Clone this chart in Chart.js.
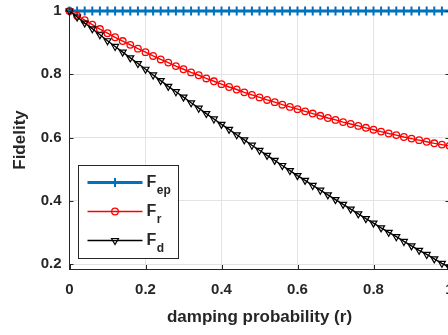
<!DOCTYPE html>
<html><head><meta charset="utf-8">
<script src="https://cdn.jsdelivr.net/npm/chart.js@4"></script>
<style>
html,body{margin:0;padding:0;overflow:hidden;background:#fff;width:448px;height:335px}
#wrap{position:absolute;left:0;top:0;width:462px;height:335px}
</style></head>
<body><div id="wrap"><canvas id="c" width="462" height="335"></canvas></div>
<script>
const rValues = [0,0.02,0.04,0.06,0.08,0.10,0.12,0.14,0.16,0.18,0.20,0.22,0.24,0.26,0.28,0.30,0.32,0.34,0.36,0.38,0.40,0.42,0.44,0.46,0.48,0.50,0.52,0.54,0.56,0.58,0.60,0.62,0.64,0.66,0.68,0.70,0.72,0.74,0.76,0.78,0.80,0.82,0.84,0.86,0.88,0.90,0.92,0.94,0.96,0.98,1.00];
const Fep = [1,1,1,1,1,1,1,1,1,1,1,1,1,1,1,1,1,1,1,1,1,1,1,1,1,1,1,1,1,1,1,1,1,1,1,1,1,1,1,1,1,1,1,1,1,1,1,1,1,1,1];
const Fr = [1.000,0.985,0.971,0.957,0.943,0.930,0.917,0.905,0.893,0.881,0.870,0.858,0.847,0.837,0.826,0.816,0.806,0.797,0.787,0.778,0.769,0.760,0.752,0.743,0.735,0.727,0.719,0.712,0.704,0.697,0.690,0.683,0.676,0.669,0.662,0.656,0.649,0.643,0.637,0.631,0.625,0.619,0.613,0.608,0.602,0.597,0.592,0.587,0.582,0.578,0.574];
const Fd = [1.000,0.981,0.962,0.944,0.925,0.906,0.888,0.870,0.852,0.834,0.816,0.798,0.780,0.762,0.745,0.728,0.710,0.693,0.676,0.659,0.642,0.626,0.609,0.593,0.576,0.560,0.544,0.528,0.512,0.496,0.480,0.465,0.449,0.434,0.419,0.404,0.389,0.374,0.359,0.344,0.330,0.315,0.301,0.287,0.272,0.258,0.244,0.231,0.217,0.203,0.190];
const xTickValues = [0,0.2,0.4,0.6,0.8,1];
const xTickLabels = ['0','0.2','0.4','0.6','0.8','1'];
const yTickValues = [0.2,0.4,0.6,0.8,1];
const yTickLabels = ['0.2','0.4','0.6','0.8','1'];
const seriesNames = ['F','F','F'];
const seriesSubs = ['ep','r','d'];
const xTitle = 'damping probability (r)';
const yTitle = 'Fidelity';

const FONT = '"Liberation Sans", Arial, Helvetica, sans-serif';
const TXT = '#262626';
Chart.defaults.font.family = FONT;
Chart.defaults.color = TXT;

function pts(ys){ return rValues.map((x,i)=>({x:x,y:ys[i]})); }

const styles = [
  {color:'#0072BD', width:3.2, pointStyle:'cross', radius:4.5, pw:2, rot:0},
  {color:'#FF0000', width:1.4, pointStyle:'circle', radius:3.3, pw:1.3, rot:0},
  {color:'#000000', width:1.4, pointStyle:'triangle', radius:4, pw:1.2, rot:180}
];

const decor = {
  id:'decor',
  afterDatasetsDraw(chart){
    const ctx = chart.ctx, ca = chart.chartArea;
    const xs = chart.scales.x, ys = chart.scales.y;
    ctx.save();
    ctx.strokeStyle = TXT; ctx.lineWidth = 1;
    ctx.beginPath();
    ctx.moveTo(ca.right, ca.top); ctx.lineTo(ca.right, ca.bottom);
    xTickValues.forEach(v=>{
      const px = Math.round(xs.getPixelForValue(v))+0.5;
      ctx.moveTo(px, ca.bottom); ctx.lineTo(px, ca.bottom-4);
    });
    yTickValues.forEach(v=>{
      const py = Math.round(ys.getPixelForValue(v))+0.5;
      ctx.moveTo(ca.left, py); ctx.lineTo(ca.left+4, py);
      ctx.moveTo(ca.right, py); ctx.lineTo(ca.right-4, py);
    });
    ctx.stroke();
    ctx.restore();
  },
  afterDraw(chart){
    const ctx = chart.ctx, ca = chart.chartArea;
    const bx = ca.left + 8, by = ca.bottom - 104, bw = 100, bh = 93;
    ctx.save();
    ctx.fillStyle = '#fff';
    ctx.fillRect(bx, by, bw, bh);
    ctx.strokeStyle = TXT; ctx.lineWidth = 1;
    ctx.strokeRect(Math.round(bx)+0.5, Math.round(by)+0.5, bw, bh);
    const rows = [by+17.5, by+46.5, by+75.5];
    styles.forEach((s,i)=>{
      const y = rows[i];
      ctx.strokeStyle = s.color; ctx.lineWidth = s.width;
      ctx.beginPath(); ctx.moveTo(bx+10, y); ctx.lineTo(bx+65, y); ctx.stroke();
      ctx.lineWidth = s.pw; ctx.fillStyle = 'rgba(0,0,0,0)';
      Chart.helpers.drawPoint(ctx, {pointStyle:s.pointStyle, radius:s.radius, rotation:s.rot, borderWidth:s.pw}, bx+37.5, y);
      ctx.fillStyle = TXT;
      ctx.textBaseline = 'middle'; ctx.textAlign = 'left';
      ctx.font = 'bold 16px ' + FONT;
      ctx.fillText(seriesNames[i], bx+69, y);
      const w = ctx.measureText(seriesNames[i]).width;
      ctx.font = 'bold 12px ' + FONT;
      ctx.fillText(seriesSubs[i], bx+69+w+0.5, y+8);
    });
    ctx.restore();
  }
};

const datasets = [Fep, Fr, Fd].map((d,i)=>{
  const s = styles[i];
  return {
    label: seriesNames[i] + seriesSubs[i],
    data: pts(d),
    borderColor: s.color,
    borderWidth: s.width,
    pointStyle: s.pointStyle,
    pointRadius: s.radius,
    pointBorderWidth: s.pw,
    pointBorderColor: s.color,
    pointBackgroundColor: 'rgba(0,0,0,0)',
    pointRotation: s.rot,
    tension: 0,
    fill: false,
    clip: false,
    order: 3 - i
  };
});

new Chart(document.getElementById('c'), {
  type: 'line',
  data: { datasets: datasets },
  options: {
    responsive: false,
    animation: false,
    events: [],
    layout: { padding: { left: 0, right: 12.5, top: 11, bottom: 0 } },
    plugins: { legend: { display: false }, tooltip: { enabled: false } },
    scales: {
      x: {
        type: 'linear', min: 0, max: 1,
        afterBuildTicks: sc => { sc.ticks = xTickValues.map(v=>({value:v})); },
        afterFit: sc => { sc.height = 66; sc.paddingLeft = 0; sc.paddingRight = 0; },
        ticks: { callback: (v,i)=>xTickLabels[i], font: { size: 15, weight: 'bold' }, color: TXT, padding: 12, maxRotation: 0 },
        grid: { color: '#e3e3e3', drawTicks: false },
        border: { display: true, color: TXT, width: 1 },
        title: { display: true, text: xTitle, font: { size: 17, weight: 'bold', lineHeight: 1 }, color: TXT, padding: { top: 0, bottom: 9 } }
      },
      y: {
        type: 'linear', min: 0.185, max: 1,
        afterBuildTicks: sc => { sc.ticks = yTickValues.map(v=>({value:v})); },
        afterFit: sc => { sc.width = 69.5; sc.paddingTop = 0; sc.paddingBottom = 0; },
        ticks: { callback: (v,i)=>yTickLabels[i], font: { size: 15, weight: 'bold', lineHeight: 1 }, color: TXT, padding: 8 },
        grid: { color: '#e3e3e3', drawTicks: false },
        border: { display: true, color: TXT, width: 1 },
        title: { display: true, text: yTitle, font: { size: 17, weight: 'bold', lineHeight: 1 }, color: TXT, padding: { top: 12, bottom: 0 } }
      }
    }
  },
  plugins: [decor]
});
</script>
</body></html>
